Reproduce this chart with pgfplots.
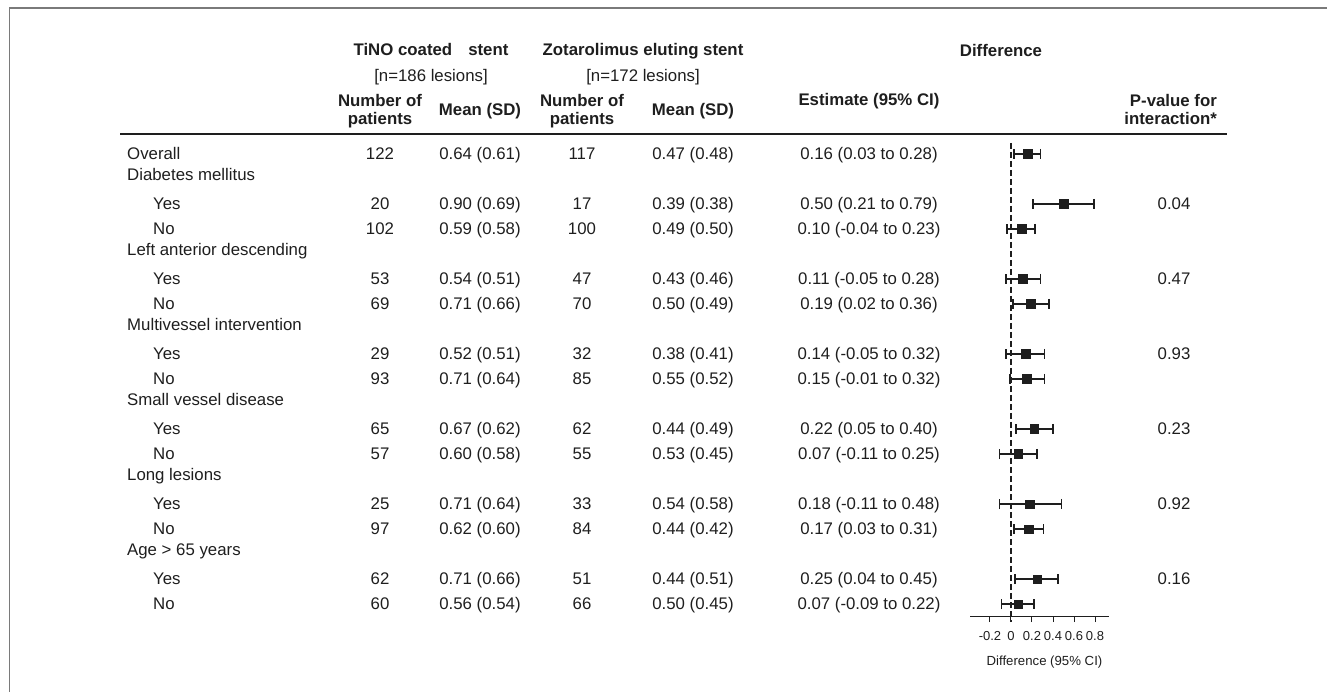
\documentclass[border=0pt]{standalone}
\usepackage{pgfplots}
\pgfplotsset{compat=1.18}
\usepackage{pgfplotstable}
\usepackage{fontspec}
\setmainfont{Liberation Sans}
\definecolor{ink}{HTML}{1E1E1E}
\definecolor{framec}{HTML}{7A7A7A}

\pgfplotstableread{
row est lo hi
0 0.16 0.03 0.28
2 0.50 0.21 0.79
3 0.10 -0.04 0.23
5 0.11 -0.05 0.28
6 0.19 0.02 0.36
8 0.14 -0.05 0.32
9 0.15 -0.01 0.32
11 0.22 0.05 0.40
12 0.07 -0.11 0.25
14 0.18 -0.11 0.48
15 0.17 0.03 0.31
17 0.25 0.04 0.45
18 0.07 -0.09 0.22
}\forestdata

\newcommand\fs{\fontsize{16.8}{20}\selectfont}
% data row: #1 row index, #2 n1, #3 mean1, #4 n2, #5 mean2, #6 estimate, #7 p
\newcommand\drow[7]{%
  \node[anchor=base] at (380,{532-25*#1}) {#2};
  \node[anchor=base] at (480,{532-25*#1}) {#3};
  \node[anchor=base] at (582,{532-25*#1}) {#4};
  \node[anchor=base] at (693,{532-25*#1}) {#5};
  \node[anchor=base] at (869,{532-25*#1}) {#6};
  \node[anchor=base] at (1174,{532-25*#1}) {#7};
}
\newcommand\lab[2]{\node[anchor=base west] at (127,{536-25*#1}) {#2};}
\newcommand\sublab[2]{\node[anchor=base west] at (153,{532-25*#1}) {#2};}

\begin{document}
\begin{tikzpicture}[x=1pt,y=1pt]
\useasboundingbox (0,0) rectangle (1327,692);
\draw[framec, line width=1.5pt] (9.5,0) -- (9.5,684) -- (1327,684);

% headers
\begin{scope}[every node/.style={font=\fs, text=ink, inner sep=0pt}]
\node[anchor=base, font=\fs\bfseries] at (431,636) {TiNO coated\hspace{16pt}stent};
\node[anchor=base] at (431,610) {[n=186 lesions]};
\node[anchor=base, font=\fs\bfseries] at (643,636) {Zotarolimus eluting stent};
\node[anchor=base] at (643,610) {[n=172 lesions]};
\node[anchor=base, font=\fs\bfseries] at (1001,635) {Difference};
\node[anchor=base, font=\fs\bfseries] at (380,585) {Number of};
\node[anchor=base, font=\fs\bfseries] at (380,567) {patients};
\node[anchor=base, font=\fs\bfseries] at (480,576) {Mean (SD)};
\node[anchor=base, font=\fs\bfseries] at (582,585) {Number of};
\node[anchor=base, font=\fs\bfseries] at (582,567) {patients};
\node[anchor=base, font=\fs\bfseries] at (693,576) {Mean (SD)};
\node[anchor=base, font=\fs\bfseries] at (869,586) {Estimate (95\% CI)};
\node[anchor=base east, font=\fs\bfseries] at (1217,585) {P-value for};
\node[anchor=base east, font=\fs\bfseries] at (1217,567) {interaction*};

\draw[ink, line width=1.5pt] (120,558) -- (1227,558);

% rows
\node[anchor=base west] at (127,532) {Overall};
\drow{0}{122}{0.64 (0.61)}{117}{0.47 (0.48)}{0.16 (0.03 to 0.28)}{}
\lab{1}{Diabetes mellitus}
\sublab{2}{Yes}
\drow{2}{20}{0.90 (0.69)}{17}{0.39 (0.38)}{0.50 (0.21 to 0.79)}{0.04}
\sublab{3}{No}
\drow{3}{102}{0.59 (0.58)}{100}{0.49 (0.50)}{0.10 (-0.04 to 0.23)}{}
\lab{4}{Left anterior descending}
\sublab{5}{Yes}
\drow{5}{53}{0.54 (0.51)}{47}{0.43 (0.46)}{0.11 (-0.05 to 0.28)}{0.47}
\sublab{6}{No}
\drow{6}{69}{0.71 (0.66)}{70}{0.50 (0.49)}{0.19 (0.02 to 0.36)}{}
\lab{7}{Multivessel intervention}
\sublab{8}{Yes}
\drow{8}{29}{0.52 (0.51)}{32}{0.38 (0.41)}{0.14 (-0.05 to 0.32)}{0.93}
\sublab{9}{No}
\drow{9}{93}{0.71 (0.64)}{85}{0.55 (0.52)}{0.15 (-0.01 to 0.32)}{}
\lab{10}{Small vessel disease}
\sublab{11}{Yes}
\drow{11}{65}{0.67 (0.62)}{62}{0.44 (0.49)}{0.22 (0.05 to 0.40)}{0.23}
\sublab{12}{No}
\drow{12}{57}{0.60 (0.58)}{55}{0.53 (0.45)}{0.07 (-0.11 to 0.25)}{}
\lab{13}{Long lesions}
\sublab{14}{Yes}
\drow{14}{25}{0.71 (0.64)}{33}{0.54 (0.58)}{0.18 (-0.11 to 0.48)}{0.92}
\sublab{15}{No}
\drow{15}{97}{0.62 (0.60)}{84}{0.44 (0.42)}{0.17 (0.03 to 0.31)}{}
\lab{16}{Age > 65 years}
\sublab{17}{Yes}
\drow{17}{62}{0.71 (0.66)}{51}{0.44 (0.51)}{0.25 (0.04 to 0.45)}{0.16}
\sublab{18}{No}
\drow{18}{60}{0.56 (0.54)}{66}{0.50 (0.45)}{0.07 (-0.09 to 0.22)}{}
\end{scope}

\begin{axis}[
  at={(970pt,76pt)}, anchor=south west,
  scale only axis, width=139pt, height=473pt,
  xmin=-0.39, xmax=0.933, ymin=-0.44, ymax=18.48,
  y dir=reverse, clip=false,
  hide y axis, axis x line*=bottom,
  axis line style={ink, line width=1pt},
  xtick={-0.2,0,0.2,0.4,0.6,0.8},
  xticklabels={-0.2,0,0.2,0.4,0.6,0.8},
  tick align=outside, major tick length=6pt,
  tick style={ink, line width=1pt},
  xticklabel style={font=\fontsize{13}{15}\selectfont, text=ink, inner sep=2pt, yshift=-7pt},
  xlabel={Difference (95\% CI)},
  xlabel style={font=\fontsize{13.2}{15}\selectfont, text=ink, xshift=5pt, yshift=-10pt},
]
\addplot[ink, line width=1.5pt, dash pattern=on 6pt off 3pt] coordinates {(0,-0.44) (0,18.7)};
\addplot[ink, only marks, mark=square*, mark size=4.3pt, mark options={ink, fill=ink},
  error bars/.cd, x dir=both, x explicit,
  error bar style={line width=1.7pt, ink},
  error mark options={ink, mark size=5pt, line width=1.7pt, rotate=90}]
  table[x=est, y=row,
        x error plus expr=\thisrow{hi}-\thisrow{est},
        x error minus expr=\thisrow{est}-\thisrow{lo}] {\forestdata};
\end{axis}
\end{tikzpicture}
\end{document}
